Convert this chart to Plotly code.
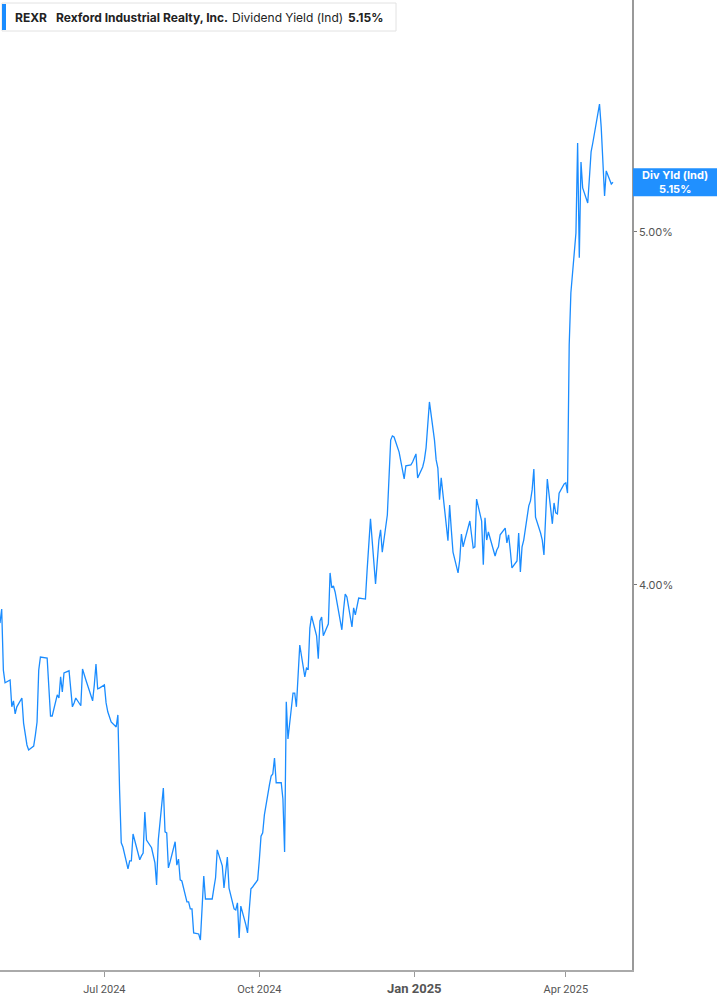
import pandas as pd
import plotly.graph_objects as go

# ---- data -------------------------------------------------------------
holidays = ["2024-05-27", "2024-06-19", "2024-07-04", "2024-09-02", "2024-11-28",
            "2024-12-25", "2025-01-01", "2025-01-09", "2025-01-20", "2025-02-17",
            "2025-04-18"]
start_date = "2024-04-30"
end_date = "2025-04-29"

apr24 = [3.892]
may24 = [3.932, 3.759, 3.723, 3.731, 3.655, 3.672, 3.635, 3.655, 3.680, 3.609, 3.570,
         3.547, 3.533, 3.544, 3.575, 3.612, 3.759, 3.796, 3.793, 3.703, 3.629, 3.629]
jun24 = [3.689, 3.680, 3.740, 3.697, 3.751, 3.757, 3.703, 3.655, 3.666, 3.680, 3.658,
         3.762, 3.731, 3.717, 3.672, 3.717, 3.776, 3.706, 3.708]
jul24 = [3.717, 3.666, 3.641, 3.612, 3.598, 3.632, 3.420, 3.270, 3.258, 3.196, 3.219,
         3.219, 3.295, 3.275, 3.222, 3.233, 3.241, 3.357, 3.278, 3.256, 3.236, 3.213]
aug24 = [3.151, 3.278, 3.425, 3.301, 3.298, 3.199, 3.216, 3.273, 3.207, 3.224, 3.165,
         3.162, 3.103, 3.103, 3.083, 3.083, 3.015, 3.012, 2.995, 3.094, 3.176, 3.111]
sep24 = [3.111, 3.142, 3.171, 3.250, 3.205, 3.142, 3.193, 3.230, 3.142, 3.083, 3.080,
         3.100, 3.001, 3.091, 3.038, 3.015, 3.080, 3.140, 3.145, 3.165]
oct24 = [3.222, 3.289, 3.298, 3.349, 3.434, 3.459, 3.465, 3.510, 3.440, 3.440, 3.394,
         3.244, 3.669, 3.564, 3.694, 3.694, 3.655, 3.745, 3.830, 3.740, 3.765, 3.762, 3.878]
nov24 = [3.912, 3.856, 3.791, 3.898, 3.909, 3.856, 3.890, 4.034, 3.992, 3.997, 3.980,
         3.901, 3.873, 3.929, 3.974, 3.966, 3.881, 3.935, 3.915, 3.963]
dec24 = [3.960, 3.960, 4.042, 4.127, 4.187, 4.003, 4.071, 4.127, 4.156, 4.093, 4.198,
         4.297, 4.410, 4.422, 4.419, 4.376, 4.348, 4.300, 4.337, 4.340, 4.348]
jan25 = [4.371, 4.303, 4.334, 4.354, 4.388, 4.518, 4.410, 4.354, 4.331, 4.241, 4.303,
         4.125, 4.226, 4.156, 4.093, 4.034, 4.071, 4.144, 4.108, 4.127]
feb25 = [4.181, 4.142, 4.105, 4.108, 4.243, 4.181, 4.057, 4.190, 4.127, 4.150, 4.082,
         4.099, 4.108, 4.142, 4.161, 4.119, 4.142, 4.099, 4.048]
mar25 = [4.068, 4.147, 4.037, 4.108, 4.127, 4.224, 4.238, 4.269, 4.328, 4.192, 4.147,
         4.127, 4.085, 4.184, 4.300, 4.173, 4.232, 4.204, 4.201, 4.260, 4.286]
apr25 = [4.289, 4.260, 4.679, 4.827, 4.996, 5.251, 4.926, 5.197, 5.124, 5.081, 5.152,
         5.226, 5.251, 5.361, 5.296, 5.200, 5.101, 5.172, 5.135, 5.140]

x_tick_vals = ["2024-07-01", "2024-10-01", "2025-01-01", "2025-04-01"]
x_tick_text = ["Jul 2024", "Oct 2024", "<b><span style='font-size:13px'>Jan 2025</span></b>", "Apr 2025"]
y_tick_vals = [4.0, 5.0]
y_tick_text = ["4.00%", "5.00%"]

ticker = "REXR"
company = "Rexford Industrial Realty, Inc."
metric = "Dividend Yield (Ind)"
metric_short = "Div Yld (Ind)"
last_txt = "5.15%"

# ---- build ------------------------------------------------------------
bday = pd.offsets.CustomBusinessDay(holidays=holidays)
dates = pd.date_range(start_date, end_date, freq=bday)
values = apr24 + may24 + jun24 + jul24 + aug24 + sep24 + oct24 + nov24 + dec24 + jan25 + feb25 + mar25 + apr25
assert len(dates) == len(values), (len(dates), len(values))
last_val = values[-1]

BLUE = "#1a8cff"
W, H = 717, 1005
ML, MR, MT, MB = 0, 85, 0, 35
PW, PH = W - ML - MR, H - MT - MB
Y_LO, Y_HI = 2.910, 5.6558

def px(xp):
    return (xp - ML) / PW

def py(yp):
    return 1 - (yp - MT) / PH

fig = go.Figure()
fig.add_trace(go.Scatter(x=dates, y=values, mode="lines",
                         line=dict(color=BLUE, width=1.3), hoverinfo="skip"))

fig.update_layout(
    width=W, height=H,
    margin=dict(l=ML, r=MR, t=MT, b=MB, autoexpand=False),
    paper_bgcolor="white", plot_bgcolor="white",
    showlegend=False,
    font=dict(family="Roboto, Inter, sans-serif", color="#555"),
    xaxis=dict(type="date", range=["2024-04-30", "2025-05-10 07:00"],
               showgrid=False, zeroline=False,
               showline=True, linecolor="#aaaaaa", linewidth=1.5,
               ticks="outside", ticklen=5, tickcolor="#999999", tickwidth=1,
               ticklabelstandoff=3,
               tickvals=x_tick_vals, ticktext=x_tick_text,
               tickfont=dict(size=11, color="#555555", family="Roboto")),
    yaxis=dict(side="right", range=[Y_LO, Y_HI],
               showgrid=False, zeroline=False,
               showline=True, linecolor="#999999", linewidth=1.5,
               ticks="outside", ticklen=3, tickcolor="#777777",
               tickvals=y_tick_vals, ticktext=y_tick_text,
               tickfont=dict(size=11, color="#555555", family="Inter")),
)

# legend box at top-left
fig.add_shape(type="rect", xref="paper", yref="paper",
              x0=px(2), x1=px(396), y0=py(31), y1=py(3),
              fillcolor="white", line=dict(color="#e2e2e2", width=1), layer="above")
fig.add_shape(type="rect", xref="paper", yref="paper",
              x0=px(2), x1=px(6), y0=py(30), y1=py(4),
              fillcolor=BLUE, line=dict(width=0), layer="above")
legend_parts = [(13, f"<b>{ticker}</b>"), (54, f"<b>{company}</b>"),
                (230, metric), (346, f"<b>{last_txt}</b>")]
for xp, txt in legend_parts:
    fig.add_annotation(xref="paper", yref="paper", x=px(xp), y=py(17),
                       xanchor="left", yanchor="middle", text=txt, showarrow=False,
                       font=dict(size=12, color="#222222", family="Inter"))

# last value label on right axis
half = 14 / (PH / (Y_HI - Y_LO))
fig.add_shape(type="rect", xref="paper", yref="y",
              x0=px(633), x1=px(717), y0=last_val - half, y1=last_val + half,
              fillcolor="#2090ff", line=dict(width=0), layer="above")
fig.add_annotation(xref="paper", yref="y", x=px(675), y=last_val,
                   xanchor="center", yanchor="middle", showarrow=False,
                   text=f"<b>{metric_short}</b><br><b>{last_txt}</b>",
                   font=dict(size=11, color="white", family="Inter"))

fig.write_html("out.html", config={"displayModeBar": False},
               post_script="document.body.style.margin='0';document.body.style.padding='0';")
